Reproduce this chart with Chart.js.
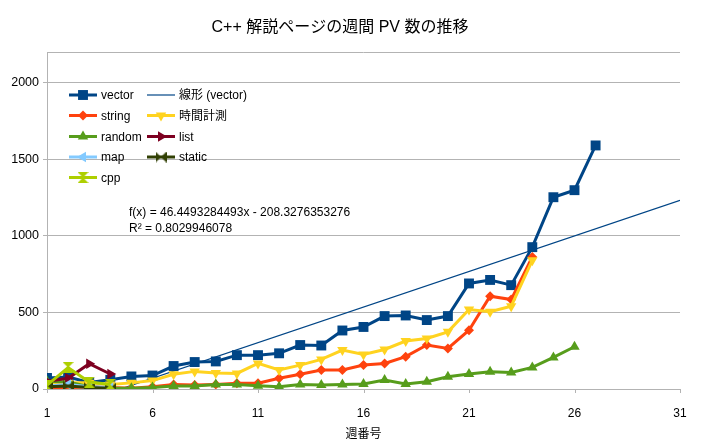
<!DOCTYPE html>
<html>
<head>
<meta charset="utf-8">
<script src="https://cdn.jsdelivr.net/npm/chart.js@4.4.1/dist/chart.umd.min.js"></script>
<style>
  html, body { margin: 0; background: #fff; }
</style>
</head>
<body>
<canvas id="myChart" width="701" height="444"></canvas>
<script>
// week numbers and weekly PV per page
const weeks = [1, 2, 3, 4, 5, 6, 7, 8, 9, 10, 11, 12, 13, 14, 15, 16, 17, 18, 19, 20, 21, 22, 23, 24, 25, 26, 27];
const vector = [72, 78, 43, 60, 82, 88, 150, 176, 180, 221, 221, 233, 287, 284, 382, 405, 476, 480, 450, 476, 689, 712, 678, 926, 1252, 1298, 1590];
const stringPv = [10, 8, 15, 10, 5, 15, 30, 26, 30, 37, 37, 70, 96, 124, 124, 156, 167, 211, 287, 265, 384, 606, 584, 862];
const timing = [25, 40, 40, 30, 40, 55, 96, 115, 105, 102, 167, 124, 156, 193, 254, 226, 258, 313, 330, 373, 519, 504, 541, 840];
const random = [50, 45, 15, 5, 5, 10, 20, 20, 30, 30, 22, 15, 30, 26, 30, 33, 59, 33, 48, 80, 98, 113, 108, 141, 206, 276];
const list = [50, 70, 165, 98];
const mapPv = [20, 30, 15, 10];
const staticPv = [15, 20, 10, 5];
const cpp = [25, 140, 45, 30];

// linear trend of vector, value at week 1 and week 31
const trendX = [1, 31];
const trendY = [-161.9, 1231.6];
const trendText = ['f(x) = 46.4493284493x - 208.3276353276', 'R² = 0.8029946078'];

const xTicks = [1, 6, 11, 16, 21, 26, 31];
const yTicks = [0, 500, 1000, 1500, 2000];

const FONT = '"Liberation Sans", "Noto Sans CJK JP", sans-serif';
const GRID = '#b3b3b3';

function pts(xs, vals) {
  return vals.map((v, i) => ({x: xs[i], y: v}));
}

// bowtie markers drawn on small canvases
function bowtie(color, vertical) {
  const c = document.createElement('canvas');
  c.width = 11; c.height = 11;
  const g = c.getContext('2d');
  g.fillStyle = color;
  g.beginPath();
  if (vertical) {
    g.moveTo(0, 0); g.lineTo(11, 0); g.lineTo(5.5, 5.5); g.closePath();
    g.moveTo(0, 11); g.lineTo(11, 11); g.lineTo(5.5, 5.5); g.closePath();
  } else {
    g.moveTo(0, 0); g.lineTo(0, 11); g.lineTo(5.5, 5.5); g.closePath();
    g.moveTo(11, 0); g.lineTo(11, 11); g.lineTo(5.5, 5.5); g.closePath();
  }
  g.fill();
  return c;
}

function series(label, data, color, style, radius, rotation, width) {
  return {
    label: label,
    data: data,
    borderColor: color,
    backgroundColor: color,
    borderWidth: width,
    pointStyle: style,
    pointRadius: radius,
    pointRotation: rotation,
    pointBorderWidth: 0,
    pointHoverRadius: radius,
    tension: 0,
    fill: false
  };
}

const datasets = [
  series('vector', pts(weeks, vector), '#004586', 'rect', 7, 0, 3),
  {label: '線形 (vector)', data: pts(trendX, trendY), borderColor: '#004586', borderWidth: 1.2,
    pointRadius: 0, pointStyle: false, tension: 0, fill: false},
  series('string', pts(weeks, stringPv), '#ff420e', 'rectRot', 5, 0, 3),
  series('時間計測', pts(weeks, timing), '#ffd320', 'triangle', 6, 180, 3),
  series('random', pts(weeks, random), '#579d1c', 'triangle', 6, 0, 3),
  series('list', pts(weeks, list), '#7e0021', 'triangle', 6, 90, 3),
  series('map', pts(weeks, mapPv), '#83caff', 'triangle', 6, 270, 3),
  series('static', pts(weeks, staticPv), '#314004', bowtie('#314004', false), 6, 0, 3),
  series('cpp', pts(weeks, cpp), '#aecf00', bowtie('#aecf00', true), 6, 0, 3)
];
datasets.forEach((d, i) => { d.order = -i; });

// legend inside the plot, two columns
const legendSpots = [
  [69, 95], [147, 95], [69, 115.5], [147, 115.5], [69, 136.5], [147, 136.5],
  [69, 157], [147, 157], [69, 177.5]
];

const insideLegend = {
  id: 'insideLegend',
  beforeDatasetsDraw(chart) {
    // top edge of the wall and the x tick marks
    const ctx = chart.ctx, a = chart.chartArea, xs = chart.scales.x;
    ctx.save();
    ctx.strokeStyle = GRID;
    ctx.lineWidth = 1;
    ctx.beginPath();
    ctx.moveTo(a.left, a.top + 0.5);
    ctx.lineTo(a.right, a.top + 0.5);
    xTicks.forEach(v => {
      const px = Math.round(xs.getPixelForValue(v)) + 0.5;
      ctx.moveTo(px, a.bottom);
      ctx.lineTo(px, a.bottom + 4);
    });
    ctx.stroke();
    ctx.restore();
  },
  afterDatasetsDraw(chart) {
    const ctx = chart.ctx;
    ctx.save();
    chart.data.datasets.forEach((d, i) => {
      const [x, y] = legendSpots[i];
      ctx.strokeStyle = d.borderColor;
      ctx.lineWidth = d.borderWidth;
      ctx.beginPath();
      ctx.moveTo(x, y);
      ctx.lineTo(x + 28, y);
      ctx.stroke();
      if (d.pointRadius) {
        ctx.fillStyle = d.backgroundColor;
        Chart.helpers.drawPoint(ctx, {
          pointStyle: d.pointStyle, rotation: d.pointRotation,
          radius: d.pointRadius, borderWidth: 0
        }, x + 14, y);
      }
      ctx.fillStyle = '#000';
      ctx.font = '12px ' + FONT;
      ctx.textBaseline = 'middle';
      ctx.textAlign = 'left';
      ctx.fillText(d.label, x + 32, y + 1);
    });
    ctx.fillText(trendText[0], 129, 213);
    ctx.fillText(trendText[1], 129, 229);
    ctx.restore();
  }
};

new Chart(document.getElementById('myChart'), {
  type: 'line',
  data: {datasets: datasets},
  plugins: [insideLegend],
  options: {
    responsive: false,
    animation: false,
    layout: {padding: {left: 0, right: 21, top: 0, bottom: 0}},
    plugins: {
      legend: {display: false},
      tooltip: {enabled: false},
      title: {
        display: true,
        text: 'C++ 解説ページの週間 PV 数の推移',
        color: '#000',
        font: {family: FONT, size: 16, weight: 'normal', lineHeight: 1.2},
        padding: {top: 18, bottom: 14.8}
      }
    },
    scales: {
      x: {
        type: 'linear',
        min: 1,
        max: 31,
        afterBuildTicks: s => { s.ticks = xTicks.map(v => ({value: v})); },
        afterFit: s => { s.height = 55; s.paddingLeft = 0; s.paddingRight = 0; },
        grid: {display: false},
        border: {display: true, color: GRID},
        ticks: {color: '#000', font: {family: FONT, size: 12}, padding: 9, maxRotation: 0},
        title: {
          display: true, text: '週番号', color: '#000',
          font: {family: FONT, size: 12}, padding: {top: 4, bottom: 2}
        }
      },
      y: {
        min: 0,
        max: 2200,
        afterBuildTicks: s => { s.ticks = yTicks.map(v => ({value: v})); },
        afterFit: s => { s.width = 47; s.paddingTop = 0; s.paddingBottom = 0; },
        grid: {color: GRID, tickLength: 4},
        border: {color: GRID},
        ticks: {
          color: '#000', font: {family: FONT, size: 12.5}, padding: 4,
          callback: v => String(v)
        }
      }
    }
  }
});
</script>
</body>
</html>
